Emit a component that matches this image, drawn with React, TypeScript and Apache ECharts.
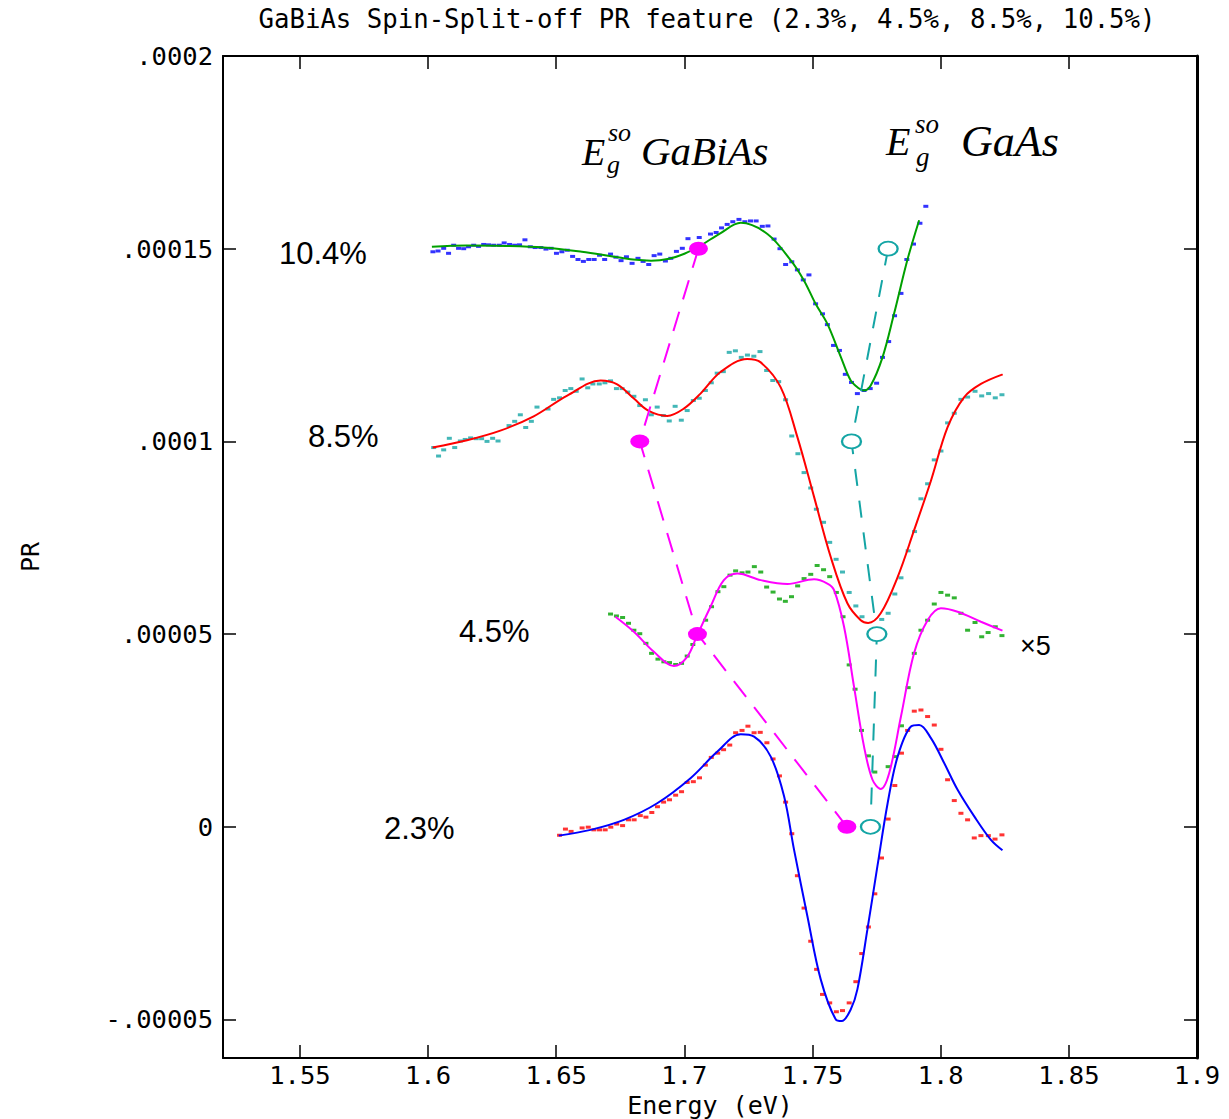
import React, { useEffect, useRef } from 'react';
import * as echarts from 'echarts';

const TITLE = 'GaBiAs Spin-Split-off PR feature (2.3%, 4.5%, 8.5%, 10.5%)';
const X_NAME = 'Energy (eV)';
const Y_NAME = 'PR';

// PR values below are stored in units of 1e-5
const PR_UNIT = 1e-5;

const xTickValues = [1.55, 1.6, 1.65, 1.7, 1.75, 1.8, 1.85, 1.9];
const xTickLabels = ['1.55', '1.6', '1.65', '1.7', '1.75', '1.8', '1.85', '1.9'];
const yTickValues = [-5, 0, 5, 10, 15, 20];
const yTickLabels = ['-.00005', '0', '.00005', '.0001', '.00015', '.0002'];

const sampleLabels = ['10.4%', '8.5%', '4.5%', '2.3%'];
// vertical offset of each spectrum (PR units of 1e-5)
const sampleLevels = [15, 10, 5, 0];

// 10.4 % : measured points and line-shape fit  [energy eV, PR]
const data104 = [
  [1.6019, 14.92], [1.6039, 14.94], [1.6061, 15.01], [1.608, 14.88], [1.61, 15.09], [1.6119, 15.01],
  [1.6139, 15.0], [1.6158, 15.05], [1.6178, 15.09], [1.6197, 15.06], [1.6217, 15.11], [1.6236, 15.1],
  [1.6256, 15.09], [1.6278, 15.09], [1.6297, 15.15], [1.6318, 15.11], [1.6338, 15.09], [1.6357, 15.1],
  [1.6378, 15.23], [1.6399, 15.05], [1.6418, 15.03], [1.644, 15.03], [1.646, 14.99], [1.648, 15.01],
  [1.6501, 14.88], [1.6522, 14.92], [1.6543, 14.96], [1.6564, 14.8], [1.6585, 14.72], [1.6606, 14.67],
  [1.6627, 14.72], [1.6648, 14.72], [1.6669, 14.83], [1.6689, 14.72], [1.6712, 14.86], [1.6733, 14.78],
  [1.6753, 14.69], [1.6774, 14.79], [1.6796, 14.62], [1.6819, 14.75], [1.6839, 14.67], [1.6861, 14.59],
  [1.6882, 14.82], [1.6904, 14.86], [1.6926, 14.68], [1.6947, 14.75], [1.6969, 14.93], [1.6992, 15.01],
  [1.7014, 15.26], [1.7058, 15.29], [1.7102, 15.38], [1.7124, 15.42], [1.7145, 15.54], [1.7167, 15.63],
  [1.7189, 15.7], [1.7213, 15.76], [1.7236, 15.7], [1.7258, 15.72], [1.728, 15.72], [1.7304, 15.58],
  [1.7326, 15.59], [1.735, 15.25], [1.7373, 15.0], [1.7395, 14.59], [1.7419, 14.66], [1.7441, 14.45],
  [1.7464, 14.19], [1.7486, 14.32], [1.7512, 13.57], [1.7539, 13.31], [1.7558, 13.03], [1.7582, 12.49],
  [1.7605, 12.36], [1.7628, 11.74], [1.7652, 11.53], [1.7675, 11.24], [1.7701, 11.32], [1.7725, 11.37],
  [1.775, 11.51], [1.7773, 12.18], [1.7797, 12.59], [1.782, 13.26], [1.7845, 13.84], [1.7868, 14.72],
  [1.7894, 15.12], [1.7919, 15.66], [1.7942, 16.1],
];
const fit104 = [
  [1.6015, 15.05], [1.615, 15.08], [1.63, 15.07], [1.645, 15.03], [1.66, 14.92], [1.672, 14.8],
  [1.68, 14.72], [1.687, 14.69], [1.694, 14.74], [1.7, 14.87], [1.706, 15.07], [1.714, 15.4],
  [1.722, 15.67], [1.7324, 15.38], [1.7416, 14.69], [1.7467, 14.17], [1.7512, 13.57], [1.7558, 13.05],
  [1.7611, 12.18], [1.7649, 11.58], [1.7682, 11.37], [1.7699, 11.32], [1.7727, 11.45], [1.7773, 12.18],
  [1.7818, 13.31], [1.7871, 14.73], [1.7916, 15.74],
];

// 8.5 %
const data85 = [
  [1.6022, 9.84], [1.6041, 9.62], [1.6061, 9.78], [1.6083, 10.08], [1.6104, 9.84], [1.6126, 10.01],
  [1.6145, 10.05], [1.6166, 10.09], [1.6188, 10.07], [1.6209, 10.07], [1.623, 10.0], [1.6252, 10.08],
  [1.6273, 10.01], [1.6316, 10.41], [1.6338, 10.52], [1.636, 10.69], [1.6381, 10.36], [1.6403, 10.52],
  [1.6425, 10.89], [1.6468, 10.84], [1.649, 11.09], [1.6513, 11.13], [1.6535, 11.32], [1.6557, 11.37],
  [1.6578, 11.3], [1.6601, 11.62], [1.6623, 11.39], [1.6643, 11.49], [1.6668, 11.49], [1.669, 11.52],
  [1.6712, 11.57], [1.6735, 11.37], [1.6757, 11.37], [1.6779, 11.28], [1.6803, 11.17], [1.6826, 10.93],
  [1.6848, 11.08], [1.6871, 10.69], [1.6894, 10.89], [1.6918, 10.67], [1.6941, 10.53], [1.6964, 10.91],
  [1.6988, 10.55], [1.7011, 10.8], [1.7035, 11.06], [1.7058, 11.12], [1.7082, 11.32], [1.7105, 11.52],
  [1.7128, 11.77], [1.7152, 11.81], [1.7175, 12.31], [1.7199, 12.35], [1.7222, 12.18], [1.7246, 12.24],
  [1.7271, 12.21], [1.7295, 12.33], [1.7321, 11.84], [1.7345, 11.58], [1.7368, 11.55], [1.7395, 11.08],
  [1.7419, 10.14], [1.7443, 9.68], [1.7467, 9.19], [1.7493, 8.79], [1.7515, 8.24], [1.7543, 7.9],
  [1.7567, 7.38], [1.7592, 6.94], [1.7617, 6.61], [1.7643, 6.08], [1.7669, 5.73], [1.7693, 5.45],
  [1.777, 5.38], [1.7795, 5.54], [1.7821, 6.04], [1.7845, 6.46], [1.7873, 7.16], [1.7898, 7.66],
  [1.7923, 8.51], [1.7949, 8.9], [1.7975, 9.52], [1.8001, 9.75], [1.8027, 10.48], [1.8053, 10.73],
  [1.8079, 11.09], [1.8105, 11.15], [1.8134, 11.3], [1.816, 11.18], [1.8187, 11.24], [1.8213, 11.13],
  [1.8239, 11.21],
];
const fit85 = [
  [1.6018, 9.84], [1.6152, 10.03], [1.6282, 10.28], [1.6412, 10.65], [1.6543, 11.19], [1.6673, 11.58],
  [1.6738, 11.48], [1.6803, 11.11], [1.6861, 10.79], [1.6933, 10.66], [1.6998, 10.85], [1.7063, 11.24],
  [1.7141, 11.8], [1.7245, 12.14], [1.7298, 12.05], [1.7376, 11.4], [1.7441, 10.11], [1.7506, 8.56],
  [1.7571, 7.0], [1.7636, 5.8], [1.7688, 5.36], [1.7717, 5.29], [1.7766, 5.54], [1.7832, 6.48],
  [1.7896, 7.69], [1.7962, 8.98], [1.8027, 10.37], [1.8092, 11.15], [1.8157, 11.49], [1.8242, 11.74],
];

// 4.5 % (shown ×5)
const data45 = [
  [1.6712, 5.52], [1.6735, 5.47], [1.6759, 5.43], [1.6782, 5.28], [1.6803, 5.1], [1.6826, 5.01],
  [1.685, 4.76], [1.6872, 4.5], [1.6897, 4.35], [1.692, 4.28], [1.6942, 4.26], [1.6966, 4.21],
  [1.6989, 4.24], [1.7011, 4.43], [1.7033, 4.73], [1.7083, 5.36], [1.7106, 5.71], [1.7131, 6.1],
  [1.7154, 6.23], [1.7178, 6.53], [1.72, 6.64], [1.7225, 6.59], [1.7248, 6.61], [1.7273, 6.75],
  [1.7298, 6.61], [1.7321, 6.22], [1.7346, 6.09], [1.7371, 5.91], [1.7394, 5.85], [1.7418, 5.97],
  [1.7442, 6.25], [1.7467, 6.44], [1.7493, 6.55], [1.7518, 6.78], [1.7543, 6.67], [1.7567, 6.49],
  [1.7593, 6.08], [1.7619, 5.45], [1.7643, 4.2], [1.7666, 3.57], [1.7691, 2.5], [1.7718, 1.84],
  [1.7743, 1.42], [1.7795, 1.56], [1.7822, 1.82], [1.7847, 2.62], [1.7873, 3.61], [1.7897, 4.5],
  [1.7923, 5.1], [1.7949, 5.36], [1.7975, 5.78], [1.8001, 6.08], [1.8027, 6.01], [1.8053, 5.94],
  [1.8079, 5.54], [1.8105, 5.1], [1.8134, 5.3], [1.816, 4.93], [1.8185, 5.04], [1.8213, 5.19],
  [1.8239, 4.96],
];
const fit45 = [
  [1.6731, 5.45], [1.6803, 5.06], [1.6881, 4.54], [1.6959, 4.17], [1.7011, 4.41], [1.705, 4.97],
  [1.7102, 5.71], [1.7154, 6.4], [1.7207, 6.57], [1.7298, 6.4], [1.7402, 6.3], [1.7506, 6.42],
  [1.7558, 6.31], [1.7584, 6.14], [1.7623, 5.19], [1.7662, 3.63], [1.7701, 2.08], [1.7734, 1.22],
  [1.7766, 0.98], [1.7799, 1.39], [1.7845, 2.86], [1.7896, 4.5], [1.7949, 5.36], [1.8001, 5.67],
  [1.8066, 5.58], [1.8157, 5.32], [1.8241, 5.09],
];

// 2.3 %
const data23 = [
  [1.6513, -0.22], [1.6536, -0.06], [1.6558, -0.12], [1.6601, -0.03], [1.6625, -0.01], [1.6647, -0.08],
  [1.6669, -0.08], [1.6691, -0.08], [1.6713, -0.01], [1.6736, 0.07], [1.6759, 0.03], [1.6782, 0.18],
  [1.6804, 0.18], [1.6828, 0.29], [1.685, 0.25], [1.6873, 0.37], [1.6895, 0.52], [1.6919, 0.64],
  [1.6942, 0.7], [1.6966, 0.82], [1.6989, 0.91], [1.7011, 1.15], [1.7035, 1.17], [1.7059, 1.27],
  [1.7082, 1.6], [1.7105, 1.8], [1.713, 1.91], [1.7153, 2.0], [1.7177, 2.12], [1.72, 2.44],
  [1.7225, 2.5], [1.7248, 2.61], [1.7272, 2.44], [1.7296, 2.45], [1.7322, 2.18], [1.7346, 1.76],
  [1.7371, 1.32], [1.7395, 0.64], [1.7419, -0.18], [1.7441, -1.27], [1.7467, -2.11], [1.7493, -2.97],
  [1.7516, -3.7], [1.7539, -4.35], [1.7567, -4.57], [1.7593, -4.8], [1.7617, -4.77], [1.7643, -4.57],
  [1.7669, -4.02], [1.7692, -3.29], [1.7718, -2.6], [1.7743, -1.74], [1.7769, -0.81], [1.7795, 0.2],
  [1.7821, 1.07], [1.7847, 1.91], [1.7871, 2.5], [1.7897, 3.0], [1.7923, 3.03], [1.7949, 2.86],
  [1.7975, 2.64], [1.8001, 2.01], [1.8027, 1.22], [1.8053, 0.68], [1.8079, 0.35], [1.8105, 0.18],
  [1.8131, -0.29], [1.8157, -0.23], [1.8186, -0.23], [1.8212, -0.32], [1.8239, -0.21],
];
const fit23 = [
  [1.651, -0.23], [1.6634, -0.08], [1.6764, 0.18], [1.6894, 0.61], [1.7024, 1.26], [1.7129, 1.95],
  [1.722, 2.4], [1.7272, 2.34], [1.7337, 1.82], [1.7389, 0.79], [1.7428, -0.6], [1.748, -2.32],
  [1.7532, -3.96], [1.7591, -5.0], [1.7614, -5.04], [1.7649, -4.74], [1.7675, -4.22], [1.7714, -2.67],
  [1.7753, -1.03], [1.7793, 0.61], [1.7832, 1.82], [1.7884, 2.6], [1.7916, 2.64], [1.7962, 2.3],
  [1.8014, 1.65], [1.8066, 0.96], [1.8131, 0.27], [1.8196, -0.34], [1.8241, -0.61],
];

// spin-split-off transition energies (eV) for each spectrum, top to bottom
const eSoGaBiAs = [1.7055, 1.6826, 1.7051, 1.7634];
const eSoGaAs = [1.7795, 1.7652, 1.7751, 1.7726];

const MONO = '"DejaVu Sans Mono", monospace';
const SANS = '"Liberation Sans", Arial, sans-serif';
const SERIF = '"Liberation Serif", "Times New Roman", serif';
const MAGENTA = '#ff00ff';
const TEAL = '#14a5a5';
const ELLIPSE = 'path://M0,10 A10,10 0 1,0 20,10 A10,10 0 1,0 0,10 Z';

const scaled = (pts: number[][]) => pts.map(([e, v]) => [e, v * PR_UNIT]);

const dotSeries = (name: string, pts: number[][], color: string) => ({
  type: 'scatter',
  name,
  data: scaled(pts),
  symbol: 'rect',
  symbolSize: [5, 3],
  itemStyle: { color },
  z: 2,
  silent: true,
});

const fitSeries = (name: string, pts: number[][], color: string) => ({
  type: 'line',
  name,
  data: scaled(pts),
  smooth: 0.35,
  showSymbol: false,
  symbol: 'none',
  lineStyle: { color, width: 2 },
  z: 3,
  silent: true,
});

const labelFor = (values: number[], labels: string[], unit: number) => (v: number) => {
  const i = values.findIndex((t) => Math.abs(t * unit - v) < 1e-3 * unit);
  return i >= 0 ? labels[i] : '';
};

const frameAxis = (extra: any) => ({
  type: 'value',
  splitLine: { show: false },
  axisLine: { show: true, onZero: false, lineStyle: { color: '#000', width: 2 } },
  ...extra,
});

const innerTicks = (values: number[]) => ({
  show: true,
  inside: true,
  length: 13,
  customValues: values,
  lineStyle: { color: '#000', width: 1.5 },
});

function text(x: number, y: number, t: string, font: any) {
  return {
    type: 'text',
    x,
    y,
    silent: true,
    style: { text: t, fill: '#000', align: 'left', verticalAlign: 'middle', ...font },
  };
}

export default function App() {
  const ref = useRef<HTMLDivElement>(null);

  useEffect(() => {
    document.body.style.margin = '0';
    const chart = echarts.init(ref.current!, null, { renderer: 'svg' });
    const yTicksPR = yTickValues.map((v) => v * PR_UNIT);
    const xFmt = labelFor(xTickValues, xTickLabels, 1);
    const yFmt = labelFor(yTickValues, yTickLabels, PR_UNIT);

    const option: any = {
      animation: false,
      backgroundColor: '#fff',
      grid: { left: 223, top: 56, width: 974, height: 1002, containLabel: false, outerBoundsMode: 'none' },
      xAxis: [
        frameAxis({
          min: 1.52,
          max: 1.9,
          position: 'bottom',
          axisTick: innerTicks(xTickValues),
          axisLabel: { customValues: xTickValues, formatter: xFmt, fontFamily: MONO, fontSize: 25.5, color: '#000', margin: 4 },
          name: X_NAME,
          nameLocation: 'middle',
          nameGap: 35,
          nameTextStyle: { fontFamily: MONO, fontSize: 25, color: '#000', lineHeight: 25 },
        }),
        frameAxis({
          min: 1.52,
          max: 1.9,
          position: 'top',
          axisTick: innerTicks(xTickValues),
          axisLabel: { show: false },
        }),
      ],
      yAxis: [
        frameAxis({
          min: -6 * PR_UNIT,
          max: 20 * PR_UNIT,
          position: 'left',
          axisTick: innerTicks(yTicksPR),
          axisLabel: { customValues: yTicksPR, formatter: yFmt, fontFamily: MONO, fontSize: 25.5, color: '#000', margin: 10 },
          name: Y_NAME,
          nameLocation: 'middle',
          nameGap: 180,
          nameTextStyle: { fontFamily: MONO, fontSize: 25, color: '#000' },
        }),
        frameAxis({
          min: -6 * PR_UNIT,
          max: 20 * PR_UNIT,
          position: 'right',
          axisLine: { show: true, onZero: false, lineStyle: { color: '#000', width: 3 } },
          axisTick: innerTicks(yTicksPR),
          axisLabel: { show: false },
        }),
      ],
      series: [
        dotSeries('10.4% data', data104, '#0000ff'),
        fitSeries('10.4% fit', fit104, '#00a000'),
        dotSeries('8.5% data', data85, TEAL),
        fitSeries('8.5% fit', fit85, '#ff0000'),
        dotSeries('4.5% data', data45, '#00a000'),
        fitSeries('4.5% fit', fit45, MAGENTA),
        dotSeries('2.3% data', data23, '#ff0000'),
        fitSeries('2.3% fit', fit23, '#0000ff'),
        {
          type: 'line',
          name: 'E_g^so GaBiAs',
          data: eSoGaBiAs.map((e, i) => [e, sampleLevels[i] * PR_UNIT]),
          symbol: ELLIPSE,
          symbolSize: [19, 14],
          showSymbol: true,
          itemStyle: { color: MAGENTA },
          lineStyle: { color: MAGENTA, width: 2, type: [20, 13] },
          z: 5,
          silent: true,
        },
        {
          type: 'line',
          name: 'E_g^so GaAs',
          data: eSoGaAs.map((e, i) => [e, sampleLevels[i] * PR_UNIT]),
          symbol: ELLIPSE,
          symbolSize: [19, 14],
          showSymbol: true,
          itemStyle: { color: '#ffffff', borderColor: TEAL, borderWidth: 2 },
          lineStyle: { color: TEAL, width: 2, type: [17, 15] },
          z: 5,
          silent: true,
        },
      ],
      graphic: [
        {
          type: 'text',
          x: 707,
          y: 19,
          silent: true,
          style: { text: TITLE, fill: '#000', align: 'center', verticalAlign: 'middle', fontFamily: MONO, fontSize: 25.7 },
        },
        text(279, 253, sampleLabels[0], { fontFamily: SANS, fontSize: 31 }),
        text(308, 436, sampleLabels[1], { fontFamily: SANS, fontSize: 31 }),
        text(459, 631, sampleLabels[2], { fontFamily: SANS, fontSize: 31 }),
        text(384, 828, sampleLabels[3], { fontFamily: SANS, fontSize: 31 }),
        text(1020, 646, '×5', { fontFamily: SANS, fontSize: 27 }),
        // E_g^so GaBiAs
        text(582, 152, 'E', { fontFamily: SERIF, fontStyle: 'italic', fontSize: 38 }),
        text(608, 132, 'so', { fontFamily: SERIF, fontStyle: 'italic', fontSize: 26 }),
        text(607, 164, 'g', { fontFamily: SERIF, fontStyle: 'italic', fontSize: 26 }),
        text(641, 151, 'GaBiAs', { fontFamily: SERIF, fontStyle: 'italic', fontSize: 41 }),
        // E_g^so GaAs
        text(886, 141, 'E', { fontFamily: SERIF, fontStyle: 'italic', fontSize: 40 }),
        text(915, 124, 'so', { fontFamily: SERIF, fontStyle: 'italic', fontSize: 27 }),
        text(916, 157, 'g', { fontFamily: SERIF, fontStyle: 'italic', fontSize: 27 }),
        text(961, 141, 'GaAs', { fontFamily: SERIF, fontStyle: 'italic', fontSize: 44 }),
      ],
    };

    chart.setOption(option);
    return () => chart.dispose();
  }, []);

  return <div ref={ref} style={{ width: 1229, height: 1119 }} />;
}
